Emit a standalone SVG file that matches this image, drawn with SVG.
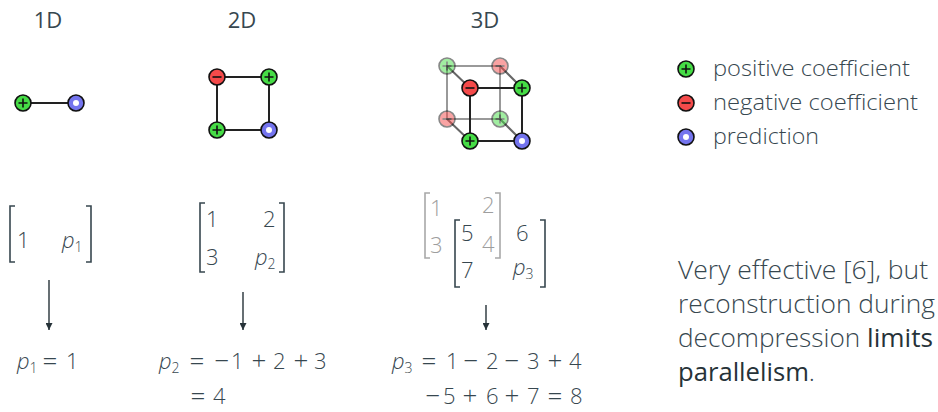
<svg xmlns="http://www.w3.org/2000/svg" width="938" height="412" viewBox="0 0 938 412">
<style>
text{font-family:"Open Sans","Noto Sans","Liberation Sans",sans-serif;fill:#37474f;font-weight:300}
.t{font-size:22px;font-weight:400}
.n{font-size:25px;font-weight:300}
.lg{font-size:22px}
.m{font-size:22px}
.e{font-size:22px}
.o{font-size:26px;text-anchor:middle}
.g{fill:#9e9e9e}
.s{font-size:14px}
.i{font-style:italic}
.b{font-weight:500;fill:#263238}
.edge{stroke:#222;stroke-width:2;fill:none}
.fedge{stroke:#999;stroke-width:2;fill:none}
.dedge{stroke:#666;stroke-width:2;fill:none}
.br{stroke:#37474f;stroke-width:1.6;fill:none}
.gbr{stroke:#a8a8a8;stroke-width:1.6;fill:none}
.arr{stroke:#263238;stroke-width:1.4}
</style>
<defs>
<g id="pos"><circle r="8" fill="#46dc46" stroke="#111" stroke-width="1.6"/><path d="M-4.5 0H4.5M0 -4.5V4.5" stroke="#111" stroke-width="1.6"/></g>
<g id="neg"><circle r="8" fill="#f44a4a" stroke="#111" stroke-width="1.6"/><path d="M-4.5 0H4.5" stroke="#111" stroke-width="1.6"/></g>
<g id="pred"><circle r="8" fill="#7474ee" stroke="#111" stroke-width="1.6"/><circle r="3" fill="#fff"/></g>
<marker id="ah" viewBox="0 0 10 10" refX="10" refY="5" markerWidth="7" markerHeight="7" markerUnits="userSpaceOnUse" orient="auto"><path d="M0 0L10 5L0 10Z" fill="#263238"/></marker>
</defs>

<g id="titles">
<text class="t" x="48" y="28" text-anchor="middle">1D</text>
<text class="t" x="242" y="28" text-anchor="middle">2D</text>
<text class="t" x="485" y="28" text-anchor="middle">3D</text>
</g>

<g id="connectors">
<line class="edge" x1="23" y1="103" x2="76" y2="103"/>
<rect class="edge" x="217" y="77" width="52" height="53"/>
<rect class="fedge" x="447" y="66" width="53" height="53"/>
<line class="dedge" x1="447" y1="66" x2="470" y2="88"/>
<line class="dedge" x1="500" y1="66" x2="522" y2="88"/>
<line class="dedge" x1="447" y1="119" x2="470" y2="141"/>
<line class="dedge" x1="500" y1="119" x2="522" y2="141"/>
<line class="arr" x1="49" y1="280" x2="49" y2="330" marker-end="url(#ah)"/>
<line class="arr" x1="243" y1="292" x2="243" y2="330" marker-end="url(#ah)"/>
<line class="arr" x1="486" y1="305" x2="486" y2="330" marker-end="url(#ah)"/>
</g>

<g id="nodes1d">
<use href="#pos" x="23" y="103"/>
<use href="#pred" x="76" y="103"/>
</g>
<g id="nodes2d">
<use href="#neg" x="217" y="77"/>
<use href="#pos" x="269" y="77"/>
<use href="#pos" x="217" y="130"/>
<use href="#pred" x="269" y="130"/>
</g>
<g id="nodes3d-back" opacity="0.5">
<use href="#pos" x="447" y="66"/>
<use href="#neg" x="500" y="66"/>
<use href="#neg" x="447" y="119"/>
<use href="#pos" x="500" y="119"/>
</g>
<g id="front-edges">
<rect class="edge" x="470" y="88" width="52" height="53"/>
</g>
<g id="nodes3d-front">
<use href="#neg" x="470" y="88"/>
<use href="#pos" x="522" y="88"/>
<use href="#pos" x="470" y="141"/>
<use href="#pred" x="522" y="141"/>
</g>

<g id="legend">
<use href="#pos" x="686" y="69"/>
<use href="#neg" x="686" y="103"/>
<use href="#pred" x="686" y="137"/>
<text class="lg" x="713" y="76" textLength="197" lengthAdjust="spacingAndGlyphs">positive coefficient</text>
<text class="lg" x="713" y="110" textLength="205" lengthAdjust="spacingAndGlyphs">negative coefficient</text>
<text class="lg" x="713" y="144" textLength="106" lengthAdjust="spacingAndGlyphs">prediction</text>
</g>

<g id="matrix1d">
<path class="br" d="M15 206H10V262H15M86 206H91V262H86"/>
<text class="m" x="17" y="248">1</text>
<text class="m" x="62" y="248"><tspan class="i">p</tspan><tspan class="s" dy="4">1</tspan></text>
</g>

<g id="matrix2d">
<path class="br" d="M205 203H200V272H205M279 203H284V272H279"/>
<text class="m" x="206" y="227">1</text>
<text class="m" x="263" y="227">2</text>
<text class="m" x="206" y="265">3</text>
<text class="m" x="255" y="265"><tspan class="i">p</tspan><tspan class="s" dy="4">2</tspan></text>
</g>

<g id="matrix3d">
<path class="gbr" d="M430 193H425V258H430M495 193H500V258H495"/>
<text class="m g" x="430" y="216">1</text>
<text class="m g" x="482" y="213">2</text>
<text class="m g" x="430" y="253">3</text>
<text class="m g" x="482" y="252">4</text>
<path class="br" d="M460 220H455V287H460M540 220H545V287H540"/>
<text class="m" x="461" y="241">5</text>
<text class="m" x="461" y="278">7</text>
<text class="m" x="516" y="241">6</text>
<text class="m" x="513" y="275"><tspan class="i">p</tspan><tspan class="s" dy="4">3</tspan></text>
</g>

<g id="eq1">
<text class="e" x="17" y="369"><tspan class="i">p</tspan><tspan class="s" dy="4">1</tspan></text>
<text class="o" x="50" y="370">=</text>
<text class="e" x="66" y="369">1</text>
</g>
<g id="eq2">
<text class="e" x="159" y="369"><tspan class="i">p</tspan><tspan class="s" dy="4">2</tspan></text>
<text class="o" x="197" y="370">=</text>
<text class="o" x="222" y="370">−</text>
<text class="e" x="231" y="369">1</text>
<text class="o" x="259" y="370">+</text>
<text class="e" x="273" y="369">2</text>
<text class="o" x="301" y="370">+</text>
<text class="e" x="314" y="369">3</text>
<text class="o" x="198" y="405">=</text>
<text class="e" x="213" y="404">4</text>
</g>
<g id="eq3">
<text class="e" x="392" y="369"><tspan class="i">p</tspan><tspan class="s" dy="4">3</tspan></text>
<text class="o" x="429" y="370">=</text>
<text class="e" x="446" y="369">1</text>
<text class="o" x="471" y="370">−</text>
<text class="e" x="486" y="369">2</text>
<text class="o" x="512" y="370">−</text>
<text class="e" x="527" y="369">3</text>
<text class="o" x="555" y="370">+</text>
<text class="e" x="569" y="369">4</text>
<text class="o" x="433" y="405">−</text>
<text class="e" x="443" y="404">5</text>
<text class="o" x="470" y="405">+</text>
<text class="e" x="486" y="404">6</text>
<text class="o" x="512" y="405">+</text>
<text class="e" x="527" y="404">7</text>
<text class="o" x="555" y="405">=</text>
<text class="e" x="570" y="404">8</text>
</g>

<g id="note">
<text class="n" x="678" y="279" textLength="250" lengthAdjust="spacingAndGlyphs">Very effective [6], but</text>
<text class="n" x="678" y="313" textLength="257" lengthAdjust="spacingAndGlyphs">reconstruction during</text>
<text class="n" x="678" y="347" textLength="255" lengthAdjust="spacingAndGlyphs">decompression <tspan class="b">limits</tspan></text>
<text class="n" x="678" y="381" textLength="137" lengthAdjust="spacingAndGlyphs"><tspan class="b">parallelism</tspan>.</text>
</g>
</svg>
